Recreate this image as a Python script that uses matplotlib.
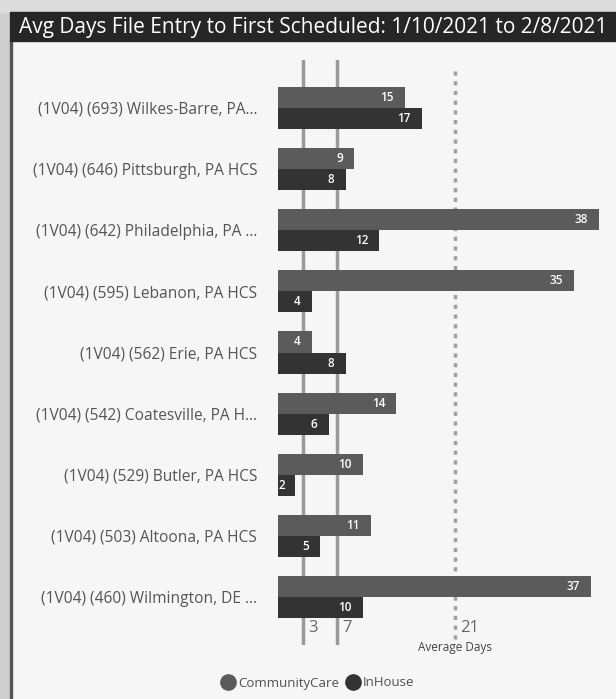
"""Avg days file entry to first scheduled, CommunityCare vs InHouse by site."""

import matplotlib.pyplot as plt
from matplotlib.lines import Line2D
from matplotlib.patches import Rectangle

SITES = [
    '(1V04) (693) Wilkes-Barre, PA...',
    '(1V04) (646) Pittsburgh, PA HCS',
    '(1V04) (642) Philadelphia, PA ...',
    '(1V04) (595) Lebanon, PA HCS',
    '(1V04) (562) Erie, PA HCS',
    '(1V04) (542) Coatesville, PA H...',
    '(1V04) (529) Butler, PA HCS',
    '(1V04) (503) Altoona, PA HCS',
    '(1V04) (460) Wilmington, DE ...',
]
COMMUNITY_CARE = [15, 9, 38, 35, 4, 14, 10, 11, 37]
IN_HOUSE = [17, 8, 12, 4, 8, 6, 2, 5, 10]
REF_LINES = [3, 7]
AVERAGE_DAYS = 21

CC_COLOR = '#5b5b5b'
IH_COLOR = '#333333'
W, H = 616, 699
FONT = 'Open Sans'


def main():
    fig = plt.figure(figsize=(W / 100, H / 100), dpi=100)
    fig.patch.set_facecolor('#f6f6f6')

    # screenshot frame: grey strip on the left and top, dark title bar
    fig.add_artist(Rectangle((0, 0), 10 / W, 1, transform=fig.transFigure,
                             color='#cfcfcf', zorder=0))
    fig.add_artist(Rectangle((10 / W, 0), 2 / W, 1 - 40 / H, transform=fig.transFigure,
                             color='#555555', zorder=0))
    fig.add_artist(Rectangle((0, 1 - 12 / H), 1, 12 / H, transform=fig.transFigure,
                             color='#dcdcdc', zorder=0))
    fig.add_artist(Rectangle((10 / W, 1 - 41 / H), 1, 29 / H, transform=fig.transFigure,
                             color='#262626', zorder=1))
    fig.text(19 / W, 1 - 27 / H,
             'Avg Days File Entry to First Scheduled: 1/10/2021 to 2/8/2021',
             color='white', fontsize=15, va='center', ha='left', family=FONT)

    left, right, top, bottom = 278, 616, 60, 645
    ax = fig.add_axes([left / W, 1 - bottom / H, (right - left) / W, (bottom - top) / H])
    ax.set_facecolor('none')

    n = len(SITES)
    pos = list(range(n))
    bh = 0.345
    ax.barh([p - bh / 2 for p in pos], COMMUNITY_CARE, height=bh, color=CC_COLOR,
            zorder=3, label='CommunityCare')
    ax.barh([p + bh / 2 for p in pos], IN_HOUSE, height=bh, color=IH_COLOR,
            zorder=3, label='InHouse')

    for p, cc, ih in zip(pos, COMMUNITY_CARE, IN_HOUSE):
        ax.text(cc - 1.3, p - bh / 2, str(cc), color='white', fontsize=8.5,
                ha='right', va='center', zorder=4, family=FONT, fontweight='semibold')
        ax.text(max(ih - 1.3, 0.8), p + bh / 2, str(ih), color='white',
                fontsize=8.5, ha='right', va='center', zorder=4, family=FONT,
                fontweight='semibold')

    span = 9.57
    ax.set_ylim(-0.785 + span, -0.785)
    ax.set_xlim(0, 40)

    for x in REF_LINES:
        ax.axvline(x, color='#9a9a9a', lw=2.5, zorder=2)
        ax.text(x + 0.6, 8.5, str(x), color='#666666', fontsize=12,
                ha='left', va='center', family=FONT)
    ax.axvline(AVERAGE_DAYS, ymin=0.01, ymax=0.99, color='#a0a0a0', lw=2.5,
               ls=(0, (1.2, 1.6)), zorder=2)
    ax.text(AVERAGE_DAYS + 0.6, 8.5, str(AVERAGE_DAYS), color='#666666',
            fontsize=12, ha='left', va='center', family=FONT)
    ax.text(AVERAGE_DAYS, 8.72, 'Average Days', color='#444444', fontsize=8.5,
            ha='center', va='top', family=FONT, clip_on=False)

    ax.set_yticks(pos)
    ax.set_yticklabels(SITES, fontsize=11.2, color='#555555', family=FONT)
    ax.tick_params(axis='y', length=0, pad=15)
    ax.set_xticks([])
    for s in ax.spines.values():
        s.set_visible(False)

    handles = [
        Line2D([], [], marker='o', ls='', color=CC_COLOR, markersize=11),
        Line2D([], [], marker='o', ls='', color=IH_COLOR, markersize=11),
    ]
    fig.legend(handles, ['CommunityCare', 'InHouse'], loc='center',
               bbox_to_anchor=(318 / W, 1 - 683 / H), ncol=2, frameon=False,
               handlelength=0.9, handletextpad=0.3, columnspacing=0.6,
               prop={'family': FONT, 'size': 9.5}, labelcolor='#505050')

    fig.savefig('out.png', dpi=100, facecolor=fig.get_facecolor())
    plt.close(fig)


if __name__ == '__main__':
    main()
